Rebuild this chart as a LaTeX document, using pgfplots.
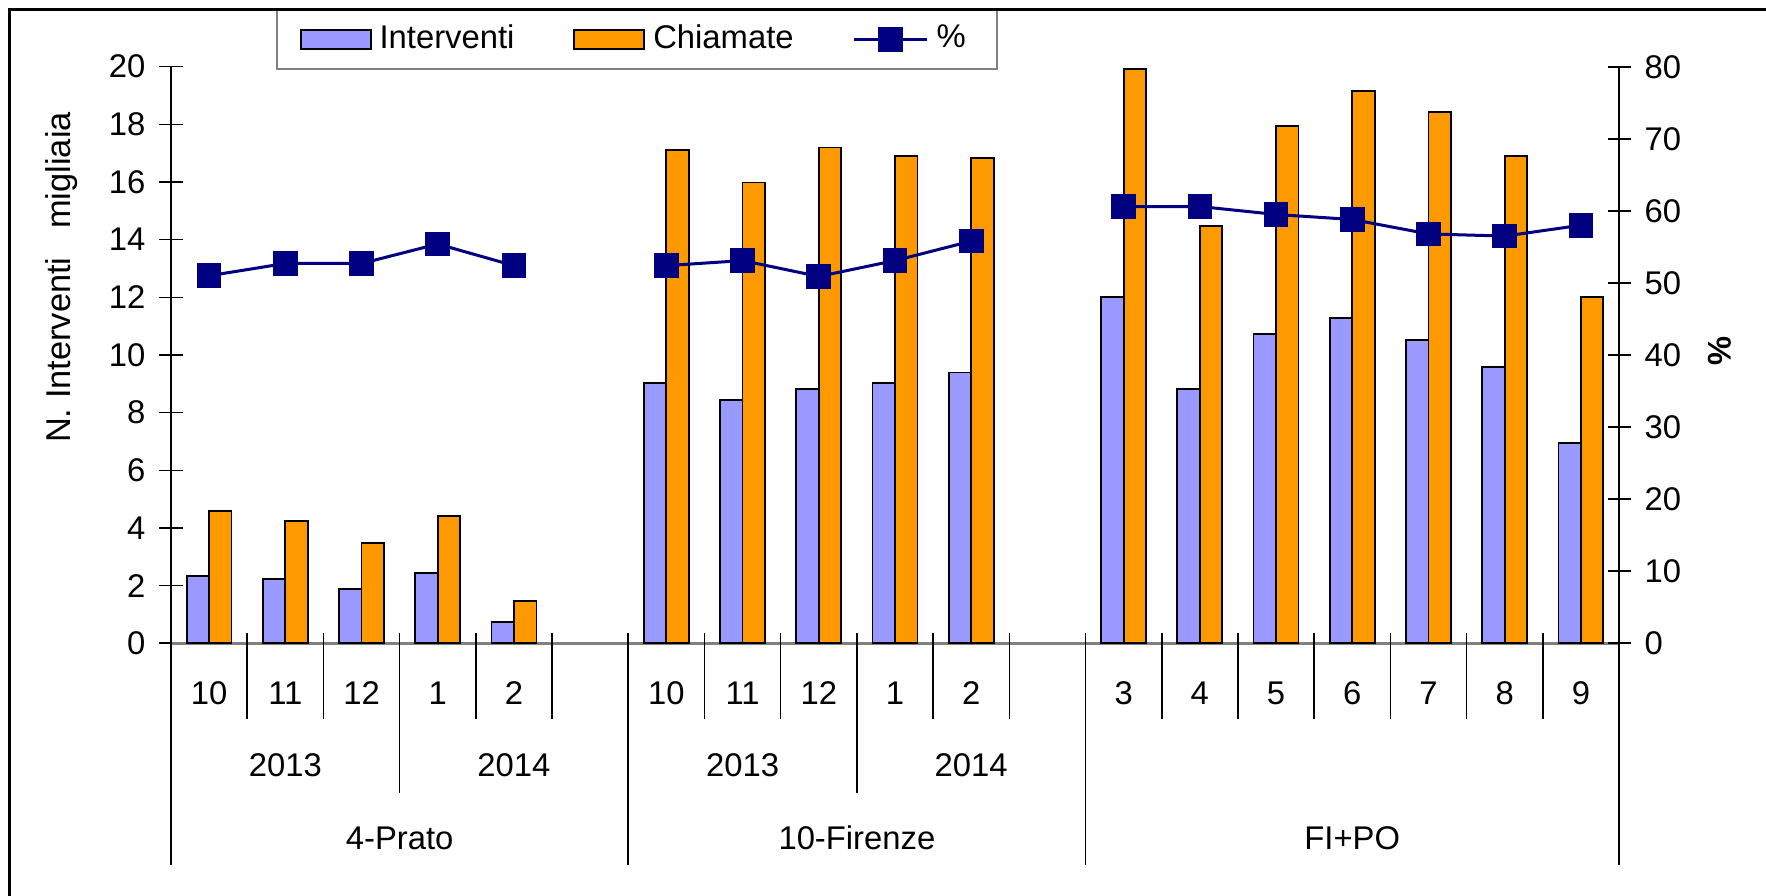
\documentclass[border=0pt]{standalone}
\usepackage{fontspec}
\setmainfont{Liberation Sans}
\usepackage{pgfplots}
\usepackage{pgfplotstable}
\pgfplotsset{compat=1.18}

\definecolor{intcol}{HTML}{9999FF}
\definecolor{chicol}{HTML}{FF9900}
\definecolor{navyline}{HTML}{000080}
\newcommand{\fsize}{\fontsize{8.2}{9.8}\selectfont}

\pgfplotsset{
  barlegend/.style={legend image code/.code={%
      \draw[##1,line width=0.45pt] (0pt,-2.4pt) rectangle (17.5pt,2.4pt);}},
  pctlegend/.style={legend image code/.code={%
      \draw[##1] (0pt,0pt) -- (18.25pt,0pt);
      \draw[##1] plot coordinates {(9.125pt,0pt)};}},
}

% slot, Interventi (migliaia), Chiamate (migliaia), % interventi/chiamate
\pgfplotstableread{
slot int chi pct
1 2.33 4.60 51.0
2 2.23 4.23 52.7
3 1.88 3.48 52.7
4 2.44 4.42 55.4
5 0.74 1.47 52.4
}\prato
\pgfplotstableread{
slot int chi pct
7 9.02 17.11 52.4
8 8.44 15.98 53.1
9 8.83 17.20 50.9
10 9.02 16.91 53.1
11 9.39 16.82 55.8
}\firenze
\pgfplotstableread{
slot int chi pct
13 12.02 19.92 60.6
14 8.83 14.47 60.6
15 10.72 17.94 59.5
16 11.27 19.17 58.8
17 10.52 18.43 56.8
18 9.57 16.90 56.5
19 6.94 12.02 58.0
}\fipo

\begin{document}
\begin{tikzpicture}[font=\fsize]
\useasboundingbox (0,0) rectangle (441.5pt,224pt);

\pgfplotsset{
  common/.style={
    at={(42.75pt,63.175pt)}, anchor=south west,
    scale only axis, width=362pt, height=144.15pt,
    xmin=0.5, xmax=19.5,
    tick align=center, major tick length=5.75pt,
    every tick/.style={black, line width=0.4pt},
    /pgf/number format/assume math mode=true,
    ticklabel style={font=\fsize},
    clip=false,
  },
  intbar/.style={ybar, bar width=0.295, bar shift=-0.1475,
    fill=intcol, draw=black, line width=0.45pt, forget plot},
  chibar/.style={ybar, bar width=0.295, bar shift=0.1475,
    fill=chicol, draw=black, line width=0.45pt, forget plot},
  pctline/.style={navyline, line width=0.75pt, mark=square*,
    mark size=2.7pt, mark options={solid, fill=navyline}},
}

% bars, left axis (thousands)
\begin{axis}[common,
  ymin=0, ymax=20, ytick={0,2,...,20},
  axis y line*=left, axis x line*=bottom,
  xtick=\empty,
  y axis line style={black, line width=0.4pt},
  x axis line style={gray, line width=0.75pt},
  ylabel={N. Interventi~~~migliaia},
  ylabel style={at={(axis description cs:-0.0753,0.6344)}, anchor=center,
    font=\fontsize{8.6}{10}\selectfont},
  legend columns=3,
  legend cell align=left,
  legend style={at={(axis description cs:0.0722,1.0996)}, anchor=north west,
    draw=gray, line width=0.5pt, fill=white, font=\fsize,
    inner xsep=5.8pt, inner ysep=1.6pt,
    /tikz/every even column/.append style={column sep=12.75pt}},
]
\addplot[intbar] table[x=slot,y=int]{\prato};
\addplot[chibar] table[x=slot,y=chi]{\prato};
\addplot[intbar] table[x=slot,y=int]{\firenze};
\addplot[chibar] table[x=slot,y=chi]{\firenze};
\addplot[intbar] table[x=slot,y=int]{\fipo};
\addplot[chibar] table[x=slot,y=chi]{\fipo};
\addlegendimage{barlegend, fill=intcol, draw=black}
\addlegendentry{Interventi}
\addlegendimage{barlegend, fill=chicol, draw=black}
\addlegendentry{Chiamate}
\addlegendimage{pctlegend, pctline}
\addlegendentry{\%}
\end{axis}

% percentage line, right axis
\begin{axis}[common,
  ymin=0, ymax=80, ytick={0,10,...,80},
  axis y line*=right, axis x line=none,
  y axis line style={black, line width=0.4pt},
  ylabel={\bfseries\%},
  ylabel style={at={(axis description cs:1.0695,0.5064)}, anchor=center, rotate=180, font=\fsize},
]
\addplot[pctline] table[x=slot,y=pct]{\prato};
\addplot[pctline] table[x=slot,y=pct]{\firenze};
\addplot[pctline] table[x=slot,y=pct]{\fipo};
\end{axis}

% multi-level category axis: months, years, zones
\def\xo{42.75}\def\sw{19.05263}\def\yo{63.175}
\begin{scope}[line width=0.4pt, black]
  \foreach \k in {1,2,4,5,7,8,10,11,13,14,15,16,17,18}
    \draw ({(\xo+\k*\sw)*1pt},{(\yo+2.65)*1pt}) -- ({(\xo+\k*\sw)*1pt},{(\yo-18.9)*1pt});
  \foreach \k in {3,9}
    \draw ({(\xo+\k*\sw)*1pt},{(\yo+2.65)*1pt}) -- ({(\xo+\k*\sw)*1pt},{(\yo-37.4)*1pt});
  \foreach \k in {6,12}
    \draw ({(\xo+\k*\sw)*1pt},{(\yo+2.65)*1pt}) -- ({(\xo+\k*\sw)*1pt},{(\yo-55.4)*1pt});
  \foreach \k in {0,19}
    \draw ({(\xo+\k*\sw)*1pt},{\yo*1pt}) -- ({(\xo+\k*\sw)*1pt},{(\yo-55.4)*1pt});
\end{scope}
\foreach \k/\m in {1/10,2/11,3/12,4/1,5/2,7/10,8/11,9/12,10/1,11/2,
                   13/3,14/4,15/5,16/6,17/7,18/8,19/9}
  \node[inner sep=0pt] at ({(\xo+(\k-0.5)*\sw)*1pt},{(\yo-12.4)*1pt}) {\m};
\foreach \k/\y in {2/2013,5/2014,8/2013,11/2014}
  \node[inner sep=0pt] at ({(\xo+(\k-0.5)*\sw)*1pt},{(\yo-30.4)*1pt}) {\y};
\foreach \k/\g in {3.5/4-Prato,9.5/10-Firenze,16/FI+PO}
  \node[inner sep=0pt] at ({(\xo+(\k-0.5)*\sw)*1pt},{(\yo-48.7)*1pt}) {\g};

% outer frame (left and top edges)
\draw[line width=0.75pt] (2.4pt,0pt) -- (2.4pt,221.7pt) -- (441.5pt,221.7pt);
\end{tikzpicture}
\end{document}
